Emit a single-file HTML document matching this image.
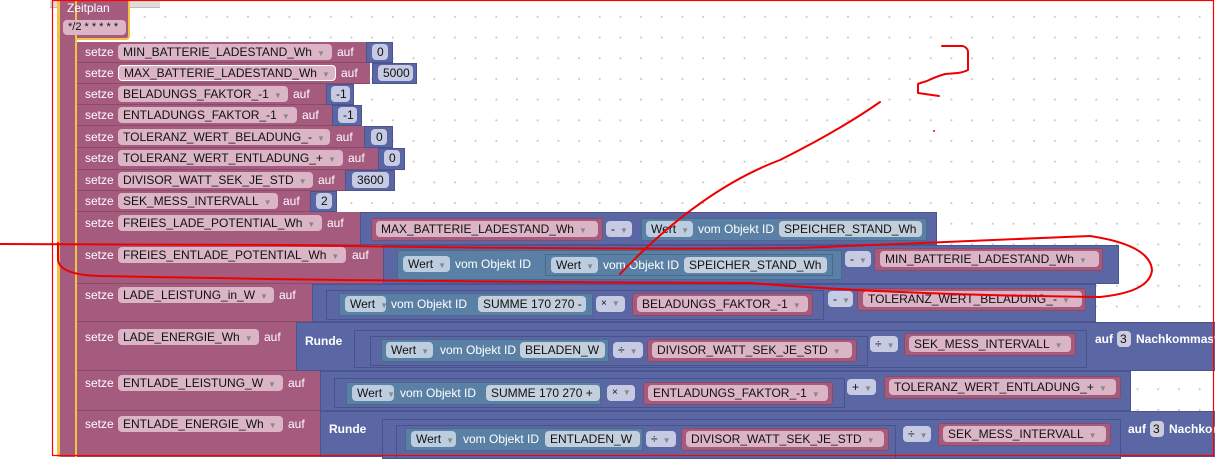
<!DOCTYPE html>
<html><head><meta charset="utf-8"><style>
body{margin:0;width:1215px;height:457px;overflow:hidden;background:#fff;font-family:"Liberation Sans",sans-serif;font-size:12px;position:relative}
.a{position:absolute;box-sizing:border-box}
.grid{left:52px;top:0;width:1163px;height:457px;background-image:radial-gradient(circle,#c8c8c8 0.8px,transparent 1.2px);background-size:20.7px 20.7px;background-position:-0.5px 6.5px}
.pk{background:#a55b7e;border-bottom:1px solid #8a4a68}
.bl{background:#5b67a5;border:1px solid #4a5590}
.bl2{background:#5b67a5;border:1px solid #48528c}
.tl{background:#5b80a5;border:1px solid #4a6a8c}
.pv{background:#a55b7e;border:1px solid #8a4a68;border-radius:3px}
.l{color:#fff;white-space:nowrap;line-height:14px}
.f{height:16px;line-height:16px;border-radius:4px;padding-left:5px;white-space:nowrap;color:#111;overflow:hidden}
.fp{background:#dbb5c6}
.fb{background:#c6cae2}
.ft{background:#bccde0}
.fd{background:#c3cfdd}
.v{font-size:8px;color:#888;margin-left:5px}
</style></head><body>
<div class="a grid"></div>
<div class="a" style="left:50px;top:0;width:110px;height:8px;background:#ddd;border-bottom:1px solid #bbb"></div>
<!-- Zeitplan -->
<div class="a" style="left:57px;top:0;width:73px;height:40px;background:#a55b7e;border-right:2px solid #f5c242;border-bottom:2px solid #f5c242;border-radius:0 0 4px 0"></div>
<div class="a" style="left:57px;top:0;width:20px;height:457px;background:#a55b7e;border-left:3px solid #f5c242;border-right:2px solid #f5c242"></div>
<div class="a l" style="left:67px;top:1px">Zeitplan</div>
<div class="a f fp" style="left:63px;top:20px;width:63px;height:15px;line-height:15px;font-size:11px">*/2 * * * * *</div>

<!-- simple rows -->
<div class="a pk" style="left:77px;top:42px;width:290px;height:21px"></div><div class="a l" style="left:85px;top:45px">setze</div><div class="a f fp" style="left:118px;top:44px;width:214px">MIN_BATTERIE_LADESTAND_Wh<span class="v">▼</span></div><div class="a l" style="left:337px;top:45px">auf</div><div class="a bl" style="left:366px;top:42px;width:27px;height:21px"></div><div class="a f fb" style="left:372px;top:44px;width:16px">0</div>

<div class="a pk" style="left:77px;top:63px;width:293px;height:21px"></div><div class="a l" style="left:85px;top:66px">setze</div><div class="a f fp" style="left:118px;top:65px;width:218px;border:1px solid #fff;line-height:14px">MAX_BATTERIE_LADESTAND_Wh<span class="v">▼</span></div><div class="a l" style="left:341px;top:66px">auf</div><div class="a bl" style="left:372px;top:63px;width:45px;height:21px"></div><div class="a f fb" style="left:378px;top:65px;width:35px">5000</div>

<div class="a pk" style="left:77px;top:84px;width:250px;height:21px"></div><div class="a l" style="left:85px;top:87px">setze</div><div class="a f fp" style="left:118px;top:86px;width:170px">BELADUNGS_FAKTOR_-1<span class="v">▼</span></div><div class="a l" style="left:293px;top:87px">auf</div><div class="a bl" style="left:326px;top:84px;width:28px;height:21px"></div><div class="a f fb" style="left:331px;top:86px;width:19px">-1</div>

<div class="a pk" style="left:77px;top:105px;width:255px;height:21px"></div><div class="a l" style="left:85px;top:108px">setze</div><div class="a f fp" style="left:118px;top:107px;width:179px">ENTLADUNGS_FAKTOR_-1<span class="v">▼</span></div><div class="a l" style="left:302px;top:108px">auf</div><div class="a bl" style="left:332px;top:105px;width:30px;height:21px"></div><div class="a f fb" style="left:338px;top:107px;width:19px">-1</div>

<div class="a pk" style="left:77px;top:126px;width:287px;height:22px"></div><div class="a l" style="left:85px;top:130px">setze</div><div class="a f fp" style="left:118px;top:129px;width:212px">TOLERANZ_WERT_BELADUNG_-<span class="v">▼</span></div><div class="a l" style="left:336px;top:130px">auf</div><div class="a bl" style="left:364px;top:126px;width:29px;height:22px"></div><div class="a f fb" style="left:371px;top:129px;width:16px">0</div>

<div class="a pk" style="left:77px;top:148px;width:301px;height:22px"></div><div class="a l" style="left:85px;top:151px">setze</div><div class="a f fp" style="left:118px;top:150px;width:225px">TOLERANZ_WERT_ENTLADUNG_+<span class="v">▼</span></div><div class="a l" style="left:348px;top:151px">auf</div><div class="a bl" style="left:378px;top:148px;width:27px;height:22px"></div><div class="a f fb" style="left:384px;top:150px;width:16px">0</div>

<div class="a pk" style="left:77px;top:170px;width:268px;height:21px"></div><div class="a l" style="left:85px;top:173px">setze</div><div class="a f fp" style="left:118px;top:172px;width:195px">DIVISOR_WATT_SEK_JE_STD<span class="v">▼</span></div><div class="a l" style="left:318px;top:173px">auf</div><div class="a bl" style="left:345px;top:170px;width:50px;height:21px"></div><div class="a f fb" style="left:352px;top:172px;width:37px">3600</div>

<div class="a pk" style="left:77px;top:191px;width:233px;height:21px"></div><div class="a l" style="left:85px;top:194px">setze</div><div class="a f fp" style="left:118px;top:193px;width:160px">SEK_MESS_INTERVALL<span class="v">▼</span></div><div class="a l" style="left:283px;top:194px">auf</div><div class="a bl" style="left:310px;top:191px;width:27px;height:21px"></div><div class="a f fb" style="left:316px;top:193px;width:16px">2</div>

<!-- Row 9 -->
<div class="a pk" style="left:77px;top:212px;width:285px;height:33px"></div><div class="a l" style="left:85px;top:216px">setze</div><div class="a f fp" style="left:118px;top:215px;width:204px">FREIES_LADE_POTENTIAL_Wh<span class="v">▼</span></div><div class="a l" style="left:327px;top:216px">auf</div>
<div class="a bl" style="left:360px;top:212px;width:577px;height:33px"></div>
<div class="a pv" style="left:371px;top:218px;width:232px;height:23px"></div><div class="a f fp" style="left:376px;top:221px;width:222px">MAX_BATTERIE_LADESTAND_Wh<span class="v">▼</span></div>
<div class="a f fb" style="left:606px;top:221px;width:26px">-<span class="v">▼</span></div>
<div class="a tl" style="left:641px;top:218px;width:286px;height:23px"></div><div class="a f ft" style="left:646px;top:221px;width:47px">Wert<span class="v">▼</span></div><div class="a l" style="left:698px;top:222px">vom Objekt ID</div><div class="a f fd" style="left:779px;top:221px;width:143px">SPEICHER_STAND_Wh</div>

<!-- Row 10 -->
<div class="a pk" style="left:77px;top:245px;width:308px;height:39px"></div><div class="a l" style="left:85px;top:248px">setze</div><div class="a f fp" style="left:118px;top:247px;width:228px">FREIES_ENTLADE_POTENTIAL_Wh<span class="v">▼</span></div><div class="a l" style="left:352px;top:248px">auf</div>
<div class="a bl" style="left:383px;top:245px;width:736px;height:39px"></div>
<div class="a tl" style="left:397px;top:250px;width:445px;height:30px"></div><div class="a f ft" style="left:403px;top:256px;width:47px">Wert<span class="v">▼</span></div><div class="a l" style="left:455px;top:257px">vom Objekt ID</div>
<div class="a tl" style="left:545px;top:254px;width:288px;height:22px"></div><div class="a f ft" style="left:551px;top:257px;width:47px">Wert<span class="v">▼</span></div><div class="a l" style="left:603px;top:258px">vom Objekt ID</div><div class="a f fd" style="left:684px;top:257px;width:143px">SPEICHER_STAND_Wh</div>
<div class="a f fb" style="left:845px;top:251px;width:26px">-<span class="v">▼</span></div>
<div class="a pv" style="left:874px;top:248px;width:229px;height:23px"></div><div class="a f fp" style="left:880px;top:251px;width:219px">MIN_BATTERIE_LADESTAND_Wh<span class="v">▼</span></div>

<!-- Row 11 -->
<div class="a pk" style="left:77px;top:284px;width:237px;height:38px"></div><div class="a l" style="left:85px;top:288px">setze</div><div class="a f fp" style="left:118px;top:287px;width:156px">LADE_LEISTUNG_in_W<span class="v">▼</span></div><div class="a l" style="left:279px;top:288px">auf</div>
<div class="a bl" style="left:312px;top:284px;width:784px;height:38px"></div>
<div class="a bl2" style="left:326px;top:290px;width:498px;height:30px"></div>
<div class="a tl" style="left:339px;top:293px;width:254px;height:23px"></div><div class="a f ft" style="left:345px;top:296px;width:41px">Wert<span class="v">▼</span></div><div class="a l" style="left:391px;top:297px">vom Objekt ID</div><div class="a f fd" style="left:478px;top:296px;width:108px">SUMME 170 270 -</div>
<div class="a f fb" style="left:596px;top:296px;width:29px;font-size:10px">×<span class="v">▼</span></div>
<div class="a pv" style="left:632px;top:293px;width:181px;height:23px"></div><div class="a f fp" style="left:637px;top:296px;width:171px">BELADUNGS_FAKTOR_-1<span class="v">▼</span></div>
<div class="a f fb" style="left:828px;top:291px;width:25px">-<span class="v">▼</span></div>
<div class="a pv" style="left:857px;top:288px;width:229px;height:23px"></div><div class="a f fp" style="left:863px;top:291px;width:219px">TOLERANZ_WERT_BELADUNG_-<span class="v">▼</span></div>

<!-- Row 12 -->
<div class="a pk" style="left:77px;top:322px;width:220px;height:49px"></div><div class="a l" style="left:85px;top:330px">setze</div><div class="a f fp" style="left:118px;top:329px;width:141px">LADE_ENERGIE_Wh<span class="v">▼</span></div><div class="a l" style="left:264px;top:330px">auf</div>
<div class="a bl" style="left:296px;top:322px;width:920px;height:49px"></div>
<div class="a l" style="left:305px;top:334px;font-weight:bold;font-size:12px">Runde</div>
<div class="a bl2" style="left:354px;top:330px;width:733px;height:38px"></div>
<div class="a bl2" style="left:370px;top:336px;width:498px;height:30px"></div>
<div class="a tl" style="left:381px;top:339px;width:228px;height:23px"></div><div class="a f ft" style="left:386px;top:342px;width:47px">Wert<span class="v">▼</span></div><div class="a l" style="left:440px;top:343px">vom Objekt ID</div><div class="a f fd" style="left:520px;top:342px;width:85px">BELADEN_W</div>
<div class="a f fb" style="left:613px;top:342px;width:30px">÷<span class="v">▼</span></div>
<div class="a pv" style="left:647px;top:339px;width:210px;height:23px"></div><div class="a f fp" style="left:652px;top:342px;width:200px">DIVISOR_WATT_SEK_JE_STD<span class="v">▼</span></div>
<div class="a f fb" style="left:870px;top:336px;width:28px">÷<span class="v">▼</span></div>
<div class="a pv" style="left:904px;top:333px;width:172px;height:23px"></div><div class="a f fp" style="left:909px;top:336px;width:162px">SEK_MESS_INTERVALL<span class="v">▼</span></div>
<div class="a l" style="left:1095px;top:332px;font-weight:bold">auf</div><div class="a f fb" style="left:1117px;top:331px;width:14px;padding-left:3px;background:#ccd">3</div><div class="a l" style="left:1136px;top:332px;font-weight:bold">Nachkommast</div>

<!-- Row 13 -->
<div class="a pk" style="left:77px;top:371px;width:245px;height:40px"></div><div class="a l" style="left:85px;top:376px">setze</div><div class="a f fp" style="left:118px;top:375px;width:165px">ENTLADE_LEISTUNG_W<span class="v">▼</span></div><div class="a l" style="left:288px;top:376px">auf</div>
<div class="a bl" style="left:320px;top:371px;width:811px;height:40px"></div>
<div class="a bl2" style="left:334px;top:378px;width:511px;height:30px"></div>
<div class="a tl" style="left:346px;top:382px;width:255px;height:23px"></div><div class="a f ft" style="left:352px;top:385px;width:42px">Wert<span class="v">▼</span></div><div class="a l" style="left:400px;top:386px">vom Objekt ID</div><div class="a f fd" style="left:486px;top:385px;width:114px">SUMME 170 270 +</div>
<div class="a f fb" style="left:607px;top:385px;width:28px;font-size:10px">×<span class="v">▼</span></div>
<div class="a pv" style="left:643px;top:382px;width:190px;height:23px"></div><div class="a f fp" style="left:648px;top:385px;width:180px">ENTLADUNGS_FAKTOR_-1<span class="v">▼</span></div>
<div class="a f fb" style="left:847px;top:379px;width:29px">+<span class="v">▼</span></div>
<div class="a pv" style="left:884px;top:376px;width:237px;height:23px"></div><div class="a f fp" style="left:889px;top:379px;width:227px">TOLERANZ_WERT_ENTLADUNG_+<span class="v">▼</span></div>

<!-- Row 14 -->
<div class="a pk" style="left:77px;top:411px;width:245px;height:46px"></div><div class="a l" style="left:85px;top:417px">setze</div><div class="a f fp" style="left:118px;top:416px;width:165px">ENTLADE_ENERGIE_Wh<span class="v">▼</span></div><div class="a l" style="left:288px;top:417px">auf</div>
<div class="a bl" style="left:320px;top:411px;width:896px;height:46px"></div>
<div class="a l" style="left:329px;top:422px;font-weight:bold">Runde</div>
<div class="a bl2" style="left:382px;top:419px;width:739px;height:40px"></div>
<div class="a bl2" style="left:396px;top:425px;width:500px;height:34px"></div>
<div class="a tl" style="left:405px;top:428px;width:238px;height:23px"></div><div class="a f ft" style="left:411px;top:431px;width:45px">Wert<span class="v">▼</span></div><div class="a l" style="left:463px;top:432px">vom Objekt ID</div><div class="a f fd" style="left:545px;top:431px;width:95px">ENTLADEN_W</div>
<div class="a f fb" style="left:646px;top:431px;width:30px">÷<span class="v">▼</span></div>
<div class="a pv" style="left:681px;top:428px;width:208px;height:23px"></div><div class="a f fp" style="left:686px;top:431px;width:198px">DIVISOR_WATT_SEK_JE_STD<span class="v">▼</span></div>
<div class="a f fb" style="left:903px;top:426px;width:28px">÷<span class="v">▼</span></div>
<div class="a pv" style="left:938px;top:423px;width:173px;height:23px"></div><div class="a f fp" style="left:943px;top:426px;width:163px">SEK_MESS_INTERVALL<span class="v">▼</span></div>
<div class="a l" style="left:1128px;top:422px;font-weight:bold">auf</div><div class="a f fb" style="left:1150px;top:421px;width:14px;padding-left:3px;background:#ccd">3</div><div class="a l" style="left:1169px;top:422px;font-weight:bold">Nachkor</div>

<svg class="a" style="left:0;top:0" width="1215" height="457">
<rect x="52.5" y="0.5" width="1161" height="455" fill="none" stroke="#f00" stroke-width="1.2"/>
<g fill="none" stroke="#e00" stroke-width="2" stroke-linecap="round" stroke-linejoin="round">
<path d="M0,244 L280,245 Q600,250 800,248 Q1000,240 1090,236 Q1150,245 1152,270 Q1150,292 1100,297 Q900,295 750,283 Q400,282 100,276 Q60,275 58,260 L58,243"/>
<path d="M620,274 Q700,190 780,160 Q840,130 880,102"/>
<path d="M942,46 L963,46 Q968,48 968,52 L968,70 Q964,72 958,73 L945,74 Q935,77 927,81 Q920,83 918,84 L918,93 L939,96"/>
</g>
<circle cx="934" cy="131" r="1" fill="#e00"/>
</svg>
</body></html>
